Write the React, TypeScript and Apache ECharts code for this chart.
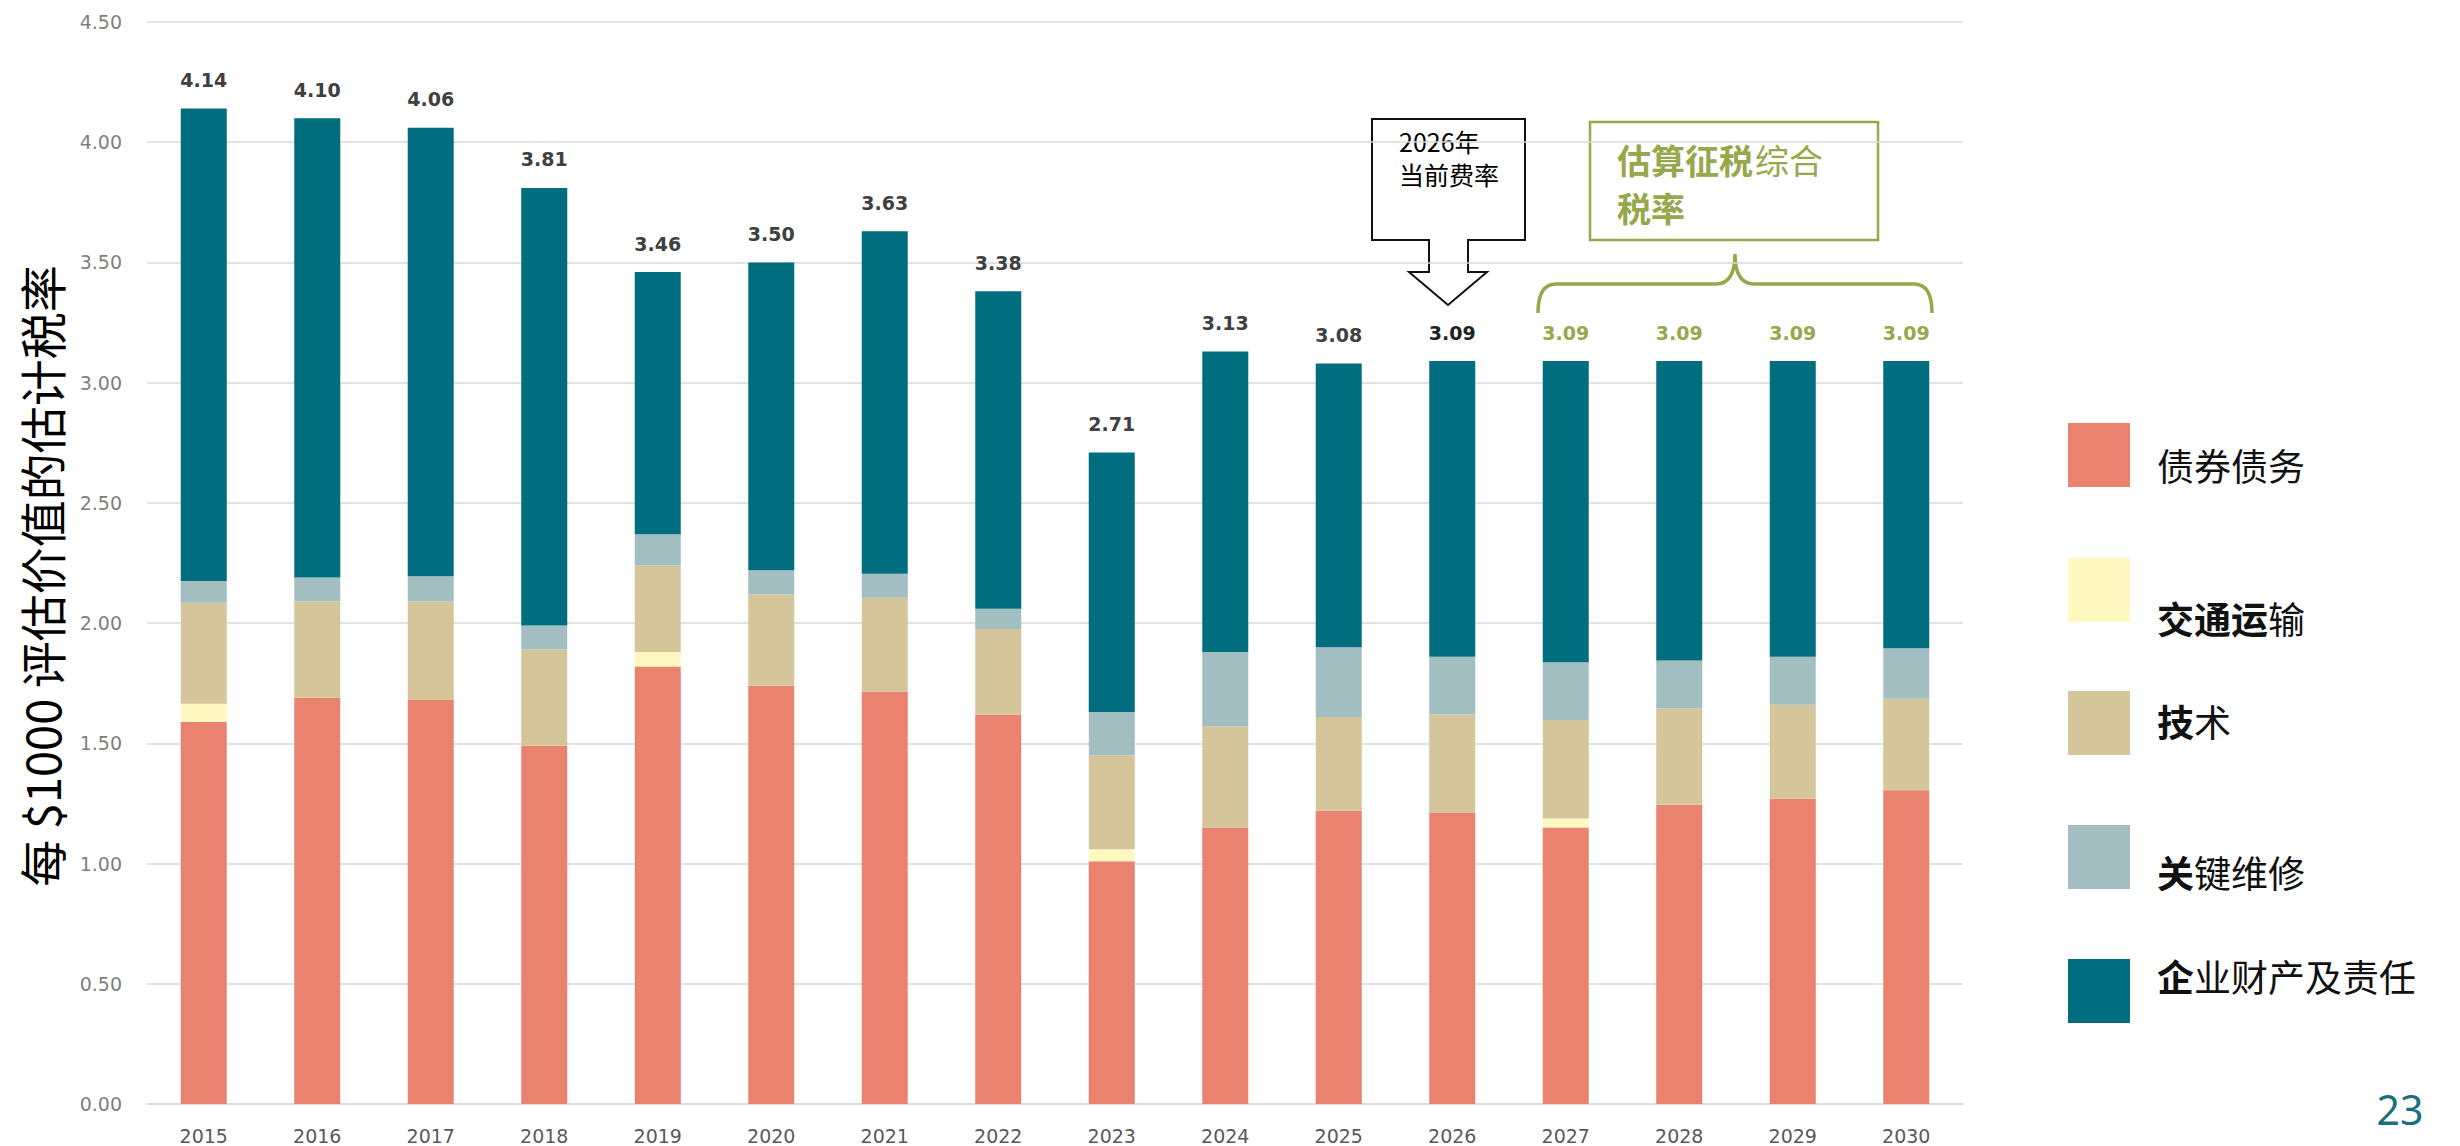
import React, { useEffect, useRef } from 'react';
import * as echarts from 'echarts';

// ---------- data ----------
const years = ['2015', '2016', '2017', '2018', '2019', '2020', '2021', '2022', '2023', '2024', '2025', '2026', '2027', '2028', '2029', '2030'];
const seriesNames = ['债券债务', '交通运输', '技术', '关键维修', '企业财产及责任'];
const bondDebt = [1.59, 1.69, 1.68, 1.49, 1.82, 1.74, 1.715, 1.62, 1.01, 1.15, 1.22, 1.21, 1.15, 1.245, 1.27, 1.305];
const transportation = [0.075, 0, 0, 0, 0.06, 0, 0, 0, 0.05, 0, 0, 0, 0.037, 0, 0, 0];
const technology = [0.42, 0.4, 0.41, 0.4, 0.36, 0.38, 0.39, 0.355, 0.39, 0.42, 0.39, 0.41, 0.41, 0.4, 0.39, 0.38];
const criticalMaintenance = [0.09, 0.1, 0.105, 0.1, 0.13, 0.1, 0.1, 0.085, 0.18, 0.31, 0.29, 0.24, 0.24, 0.2, 0.2, 0.21];
const corporateProperty = [1.965, 1.91, 1.865, 1.82, 1.09, 1.28, 1.425, 1.32, 1.08, 1.25, 1.18, 1.23, 1.253, 1.245, 1.23, 1.195];
const totalLabels = ['4.14', '4.10', '4.06', '3.81', '3.46', '3.50', '3.63', '3.38', '2.71', '3.13', '3.08', '3.09', '3.09', '3.09', '3.09', '3.09'];
const yAxisTitle = '每 $1000 评估价值的估计税率';
const calloutText = '2026年\n当前费率';
const estimateBold1 = '估算征税';
const estimateNormal1 = '综合';
const estimateBold2 = '税率';
const pageNumber = '23';

// ---------- styles ----------
const seriesColors = ['#E9836F', '#FFF8C1', '#D4C59A', '#A2BEC0', '#006E7F'];
const GREEN = '#98A74C';
const labelColorFor = (i: number) => (i >= 12 ? GREEN : i === 11 ? '#222222' : '#404040');

const bracketPath =
  'M1538,313 Q1538,284 1556,284 L1716,284 Q1735,284 1735,254 Q1735,284 1754,284 L1914,284 Q1932,284 1932,313';
let registered = false;
function registerShapes() {
  if (registered) return;
  echarts.graphic.registerShape('bracket', echarts.graphic.extendPath(bracketPath, {}) as any);
  registered = true;
}

// legend rich text: bold leading characters as in the reference
const legendRich = [
  '{n|债券债务}',
  '{b|交通运}{n|输}',
  '{b|技}{n|术}',
  '{b|关}{n|键维修}',
  '{b|企}{n|业财产及责任}',
];
const legendSquareY = [423, 558, 691, 825, 959];
const legendTextY = [465, 618, 721, 872, 976];

export default function App() {
  const ref = useRef<HTMLDivElement>(null);

  useEffect(() => {
    document.body.style.margin = '0';
    registerShapes();
    const chart = echarts.init(ref.current!, undefined, { renderer: 'svg' });

    const dataSets = [bondDebt, transportation, technology, criticalMaintenance, corporateProperty];
    const series: any[] = dataSets.map((arr, si) => ({
      name: seriesNames[si],
      type: 'bar',
      stack: 'total',
      barWidth: 46,
      itemStyle: { color: seriesColors[si] },
      data:
        si === 4
          ? arr.map((v, i) => ({ value: v, label: { color: labelColorFor(i) } }))
          : arr,
      label:
        si === 4
          ? {
              show: true,
              position: 'top',
              distance: 19,
              formatter: (p: any) => totalLabels[p.dataIndex],
              fontFamily: 'DejaVu Sans',
              fontWeight: 'bold',
              fontSize: 19,
            }
          : { show: false },
    }));

    const legendGraphics: any[] = [];
    seriesNames.forEach((_, i) => {
      legendGraphics.push({
        type: 'rect',
        shape: { x: 2068, y: legendSquareY[i], width: 62, height: 64 },
        style: { fill: seriesColors[i] },
      });
      legendGraphics.push({
        type: 'text',
        x: 2157,
        y: legendTextY[i],
        style: {
          text: legendRich[i],
          verticalAlign: 'middle',
          align: 'left',
          rich: {
            b: { fontFamily: 'Noto Sans CJK SC', fontSize: 37, fontWeight: 'bold', fill: '#111' },
            n: { fontFamily: 'Noto Sans CJK SC', fontSize: 37, fontWeight: 'normal', fill: '#111' },
          },
        },
      });
    });

    const greenText = (text: string, x: number, y: number, bold: boolean) => ({
      type: 'text',
      x,
      y,
      style: {
        text,
        fontFamily: 'Noto Sans CJK SC',
        fontSize: 34,
        fontWeight: bold ? 'bold' : 'normal',
        fill: GREEN,
        align: 'left',
        verticalAlign: 'middle',
      },
    });

    const option: any = {
      animation: false,
      backgroundColor: '#ffffff',
      grid: { left: 147, right: 497, top: 22, bottom: 42, containLabel: false },
      xAxis: {
        type: 'category',
        data: years,
        axisLine: { show: true, lineStyle: { color: '#D9D9D9', width: 1.5 } },
        axisTick: { show: false },
        axisLabel: { margin: 22, fontFamily: 'DejaVu Sans', fontSize: 19, color: '#595959' },
      },
      yAxis: {
        type: 'value',
        min: 0,
        max: 4.5,
        interval: 0.5,
        axisLine: { show: false },
        axisTick: { show: false },
        splitLine: { lineStyle: { color: '#D9D9D9', width: 1.5 } },
        axisLabel: {
          margin: 25,
          fontFamily: 'DejaVu Sans',
          fontSize: 19,
          color: '#7F7F7F',
          formatter: (v: number) => v.toFixed(2),
        },
      },
      series,
      graphic: [
        // y axis title
        {
          type: 'text',
          x: 40,
          y: 576,
          rotation: Math.PI / 2,
          style: {
            text: yAxisTitle,
            fontFamily: 'Noto Sans CJK SC',
            fontSize: 47,
            fill: '#000',
            align: 'center',
            verticalAlign: 'middle',
          },
        },
        // 2026 callout
        {
          type: 'polygon',
          shape: {
            points: [
              [1372, 119], [1525, 119], [1525, 240], [1468, 240], [1468, 272], [1487, 272],
              [1448, 305], [1409, 272], [1429, 272], [1429, 240], [1372, 240],
            ],
          },
          style: { fill: '#ffffff', stroke: '#111', lineWidth: 2 },
        },
        {
          type: 'text',
          x: 1399,
          y: 157,
          style: {
            text: calloutText,
            fontFamily: 'Noto Sans CJK SC',
            fontSize: 25,
            lineHeight: 33,
            fill: '#000',
            verticalAlign: 'middle',
          },
        },
        // estimate box
        {
          type: 'rect',
          shape: { x: 1590, y: 122, width: 288, height: 118 },
          style: { fill: '#ffffff', stroke: GREEN, lineWidth: 2.5 },
        },
        greenText(estimateBold1, 1617, 159, true),
        greenText(estimateNormal1, 1755, 159, false),
        greenText(estimateBold2, 1617, 207, true),
        // bracket
        {
          type: 'bracket',
          x: 0,
          y: 0,
          style: { fill: 'none', stroke: GREEN, lineWidth: 3.5 },
        },
        ...legendGraphics,
        // page number
        {
          type: 'text',
          x: 2400,
          y: 1109,
          style: {
            text: pageNumber,
            fontFamily: 'Noto Sans',
            fontSize: 41,
            fill: '#1B6F7E',
            align: 'center',
            verticalAlign: 'middle',
          },
        },
      ],
    };

    chart.setOption(option);
    return () => chart.dispose();
  }, []);

  return (
    <div
      ref={ref}
      style={{ position: 'fixed', left: 0, top: 0, width: 2460, height: 1146, background: '#fff' }}
    />
  );
}
